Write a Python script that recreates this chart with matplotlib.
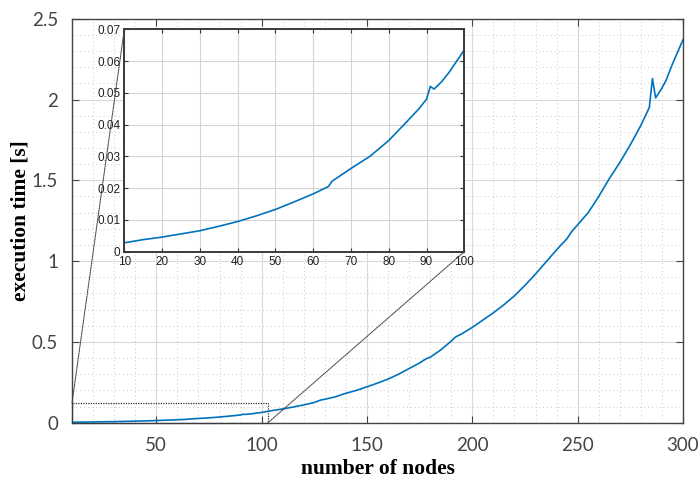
import matplotlib.pyplot as plt
from matplotlib.patches import Rectangle, ConnectionPatch
from matplotlib.ticker import MultipleLocator

# values
nodes = [10, 15, 20, 25, 30, 35, 40, 45, 50, 55, 60, 64, 65, 70, 75, 80, 85, 88,
         90, 91, 92, 94, 96, 98, 100, 105, 110, 115, 120, 125, 128, 130, 135, 140,
         145, 150, 155, 160, 165, 170, 175, 178, 180, 185, 190, 192, 195, 200, 205,
         210, 215, 220, 225, 230, 235, 240, 245, 247, 250, 253, 255, 258, 260, 265,
         270, 275, 280, 284, 285.5, 287, 290, 292, 295, 297, 300]
exec_time = [0.0028, 0.0038, 0.0046, 0.0056, 0.0066, 0.0080, 0.0095, 0.0113,
             0.0133, 0.0157, 0.0182, 0.0205, 0.0222, 0.0262, 0.0300, 0.0350,
             0.0412, 0.0450, 0.0480, 0.0520, 0.0512, 0.0535, 0.0565, 0.0600,
             0.0635, 0.075, 0.085, 0.097, 0.110, 0.125, 0.140, 0.145, 0.160,
             0.182, 0.200, 0.222, 0.245, 0.270, 0.300, 0.335, 0.370, 0.395,
             0.405, 0.450, 0.505, 0.530, 0.550, 0.590, 0.635, 0.680, 0.730,
             0.785, 0.850, 0.920, 0.995, 1.070, 1.140, 1.180, 1.225, 1.270,
             1.300, 1.360, 1.400, 1.510, 1.610, 1.720, 1.840, 1.950, 2.130,
             2.010, 2.070, 2.120, 2.220, 2.280, 2.370]

main_xticks = [50, 100, 150, 200, 250, 300]
main_yticks = [0, 0.5, 1, 1.5, 2, 2.5]
main_ylabels = ['0', '0.5', '1', '1.5', '2', '2.5']
inset_xticks = [10, 20, 30, 40, 50, 60, 70, 80, 90, 100]
inset_yticks = [0, 0.01, 0.02, 0.03, 0.04, 0.05, 0.06, 0.07]
inset_ylabels = ['0', '0.01', '0.02', '0.03', '0.04', '0.05', '0.06', '0.07']
zoom_box = (10, 103, 0, 0.123)  # x0, x1, y0, y1

blue = '#0072BD'
tick_font = dict(family=['Lato', 'DejaVu Sans'], size=13.5, color='#444444')

fig = plt.figure(figsize=(6.98, 4.8), dpi=100)
ax = fig.add_axes([0.1032, 0.1194, 0.8753, 0.8416])
ax.plot(nodes, exec_time, color=blue, lw=1.2, zorder=3)
ax.set_xlim(10, 300)
ax.set_ylim(0, 2.5)
ax.set_xticks(main_xticks)
ax.set_xticklabels([str(t) for t in main_xticks], fontdict=tick_font)
ax.set_yticks(main_yticks)
ax.set_yticklabels(main_ylabels, fontdict=tick_font)
ax.xaxis.set_minor_locator(MultipleLocator(10))
ax.yaxis.set_minor_locator(MultipleLocator(0.1))
ax.tick_params(which='major', direction='in', length=5, width=0.8, color='#444444',
               top=True, right=True, pad=10)
ax.tick_params(which='minor', length=0)
ax.grid(which='major', color='#d9d9d9', lw=0.8)
ax.grid(which='minor', color='#c8c8c8', lw=0.7, ls=(0, (1, 3)))
for s in ax.spines.values():
    s.set_color('#444444')
    s.set_linewidth(1.0)
ax.set_xlabel('number of nodes', family='Liberation Serif', weight='bold', size=15.5,
              labelpad=4)
ax.set_ylabel('execution time [s]', family='Liberation Serif', weight='bold', size=15.5,
              labelpad=1)

x0, x1, y0, y1 = zoom_box
ax.add_patch(Rectangle((x0, y0), x1 - x0, y1 - y0, fill=False, ec='#333333', lw=0.9,
                       ls=(0, (1, 1)), zorder=4, clip_on=False))

axin = fig.add_axes([0.1781, 0.4756, 0.4871, 0.4634])
axin.plot(nodes, exec_time, color=blue, lw=1.2)
axin.set_xlim(10, 100)
axin.set_ylim(0, 0.07)
small = dict(family=['Liberation Sans', 'DejaVu Sans'], size=8.5, color='#222222')
axin.set_xticks(inset_xticks)
axin.set_xticklabels([str(t) for t in inset_xticks], fontdict=small)
axin.set_yticks(inset_yticks)
axin.set_yticklabels(inset_ylabels, fontdict=small)
axin.tick_params(direction='in', length=3, width=0.8, color='#333333', top=True,
                 right=True, pad=3)
axin.grid(color='#d4d4d4', lw=0.8)
for s in axin.spines.values():
    s.set_color('#3a3a3a')
    s.set_linewidth(1.4)

for pa, pb in [((x0, y1), (0, 1)), ((x1, y0), (1, 0))]:
    con = ConnectionPatch(xyA=pa, coordsA=ax.transData, xyB=pb, coordsB=axin.transAxes,
                          color='#444444', lw=0.8, ls=(0, (1, 1)), zorder=2)
    fig.add_artist(con)

fig.savefig('out.png', dpi=100)
